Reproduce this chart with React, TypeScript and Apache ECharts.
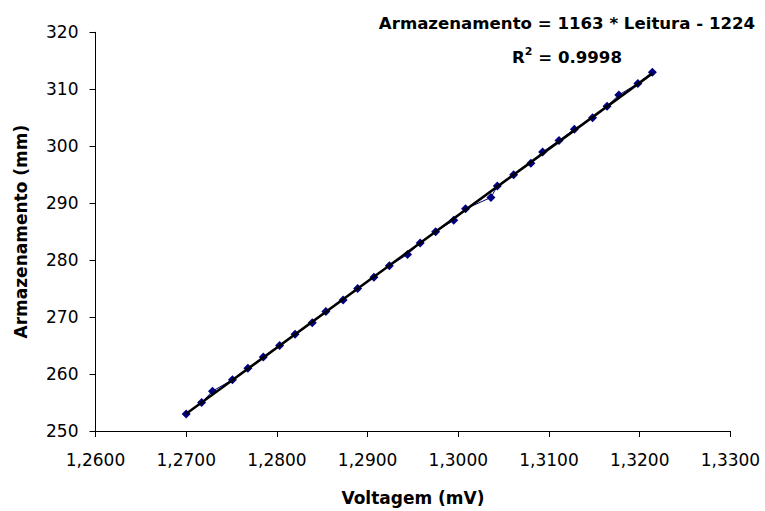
import React, { useEffect, useRef } from "react";
import * as echarts from "echarts";

const voltage = [
  1.27, 1.2717, 1.2729, 1.2751, 1.2768, 1.2785, 1.2803, 1.282, 1.2839, 1.2854,
  1.2873, 1.2889, 1.2907, 1.2924, 1.2944, 1.2958, 1.2975, 1.2995, 1.3008, 1.3036,
  1.3043, 1.3061, 1.308, 1.3093, 1.3111, 1.3128, 1.3148, 1.3164, 1.3177, 1.3198,
  1.3214,
];
const storage = [
  253, 255, 257, 259, 261, 263, 265, 267, 269, 271,
  273, 275, 277, 279, 281, 283, 285, 287, 289, 291,
  293, 295, 297, 299, 301, 303, 305, 307, 309, 311,
  313,
];
const trendSlope = 1163;
const trendIntercept = -1224;
const trendX = [1.27, 1.3214];
const equationText = "Armazenamento = 1163 * Leitura - 1224";
const r2Value = "0.9998";
const xAxisName = "Voltagem (mV)";
const yAxisName = "Armazenamento (mm)";

const FONT = "DejaVu Sans";

export default function App() {
  const ref = useRef<HTMLDivElement>(null);
  useEffect(() => {
    if (!ref.current) return;
    const chart = echarts.init(ref.current, null, { renderer: "svg" });
    const data = voltage.map((v, i) => [v, storage[i]]);
    const trend = trendX.map((v) => [v, trendSlope * v + trendIntercept]);
    chart.setOption({
      animation: false,
      backgroundColor: "#ffffff",
      textStyle: { fontFamily: FONT },
      grid: { left: 95.5, right: 34.6, top: 32.3, bottom: 77.6, containLabel: false },
      xAxis: {
        type: "value",
        min: 1.26,
        max: 1.33,
        interval: 0.01,
        name: xAxisName,
        nameLocation: "middle",
        nameGap: 58,
        nameTextStyle: { fontFamily: FONT, fontWeight: "bold", fontSize: 17, color: "#000" },
        axisLine: { show: true, lineStyle: { color: "#000", width: 1 } },
        axisTick: { show: true, inside: false, length: 6, lineStyle: { color: "#000" } },
        axisLabel: {
          fontFamily: FONT,
          fontSize: 17,
          color: "#000",
          margin: 20,
          formatter: (v: number) => v.toFixed(4).replace(".", ","),
        },
        splitLine: { show: false },
      },
      yAxis: {
        type: "value",
        min: 250,
        max: 320,
        interval: 10,
        name: yAxisName,
        nameLocation: "middle",
        nameGap: 66,
        nameTextStyle: { fontFamily: FONT, fontWeight: "bold", fontSize: 17, color: "#000" },
        axisLine: { show: true, lineStyle: { color: "#000", width: 1 } },
        axisTick: { show: true, inside: false, length: 6, lineStyle: { color: "#000" } },
        axisLabel: { fontFamily: FONT, fontSize: 17, color: "#000", margin: 17 },
        splitLine: { show: false },
      },
      series: [
        {
          type: "line",
          data,
          symbol: "diamond",
          symbolSize: 9,
          itemStyle: { color: "#000080" },
          lineStyle: { color: "#000080", width: 1 },
          z: 2,
        },
        {
          type: "line",
          data: trend,
          symbol: "none",
          lineStyle: { color: "#000000", width: 2.5 },
          z: 3,
        },
      ],
      graphic: [
        {
          type: "text",
          x: 567,
          y: 23,
          style: {
            text: equationText,
            fill: "#000",
            font: `bold 16.6px "${FONT}"`,
            textAlign: "center",
            textVerticalAlign: "middle",
          },
        },
        {
          type: "text",
          x: 567,
          y: 56,
          style: {
            text: `{b|R}{s|2}{b| = ${r2Value}}`,
            textAlign: "center",
            textVerticalAlign: "middle",
            rich: {
              b: { fontFamily: FONT, fontWeight: "bold", fontSize: 16.6, fill: "#000", lineHeight: 20, verticalAlign: "bottom" },
              s: { fontFamily: FONT, fontWeight: "bold", fontSize: 11, fill: "#000", lineHeight: 20, verticalAlign: "top" },
            },
          },
        },
      ],
    });
    return () => chart.dispose();
  }, []);
  return (
    <div
      ref={ref}
      style={{ position: "fixed", left: 0, top: 0, width: 765, height: 511, background: "#fff" }}
    />
  );
}
